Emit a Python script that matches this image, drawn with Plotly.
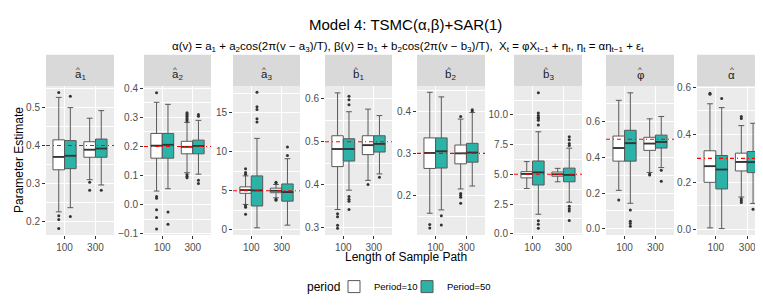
import plotly.graph_objects as go

# ---------------- data ----------------
params = ["a1", "a2", "a3", "b1", "b2", "b3", "phi", "alpha"]
strip_letters = ["a", "a", "a", "b", "b", "b", "φ", "α"]
strip_subs = ["1", "2", "3", "1", "2", "3", "", ""]
true_values = [0.4, 0.2, 5, 0.5, 0.3, 5, 0.5, 0.3]
lengths = ["100", "300"]
periods = ["Period=10", "Period=50"]

# rows: parameter, columns: length 100, 300
q1_p10 = [[0.336, 0.369], [0.160, 0.175], [4.67, 4.75], [0.442, 0.470], [0.264, 0.275], [4.70, 4.84], [0.378, 0.438], [0.199, 0.247]]
med_p10 = [[0.370, 0.389], [0.203, 0.199], [5.08, 5.00], [0.483, 0.492], [0.301, 0.300], [5.03, 5.00], [0.451, 0.476], [0.267, 0.285]]
q3_p10 = [[0.415, 0.410], [0.245, 0.218], [5.50, 5.33], [0.514, 0.514], [0.337, 0.320], [5.22, 5.19], [0.518, 0.511], [0.332, 0.322]]
lo_p10 = [[0.225, 0.310], [0.047, 0.110], [3.25, 4.10], [0.342, 0.410], [0.157, 0.215], [3.80, 4.37], [0.215, 0.315], [0.007, 0.137]]
hi_p10 = [[0.527, 0.472], [0.352, 0.283], [6.90, 5.80], [0.614, 0.576], [0.446, 0.382], [6.07, 5.50], [0.717, 0.614], [0.530, 0.438]]
out_p10 = [
    [[0.540, 0.215, 0.205, 0.181], [0.303, 0.282]],
    [[0.385, 0.028, 0.022, -0.017, -0.044, -0.083], [0.288, 0.293, 0.298, 0.303, 0.308, 0.312, 0.316, 0.104, 0.098, 0.093]],
    [[7.83, 7.33, 7.1, 3.09, 2.9, 2.0], [6.0, 6.1, 3.9, 3.8]],
    [[0.332, 0.325, 0.305, 0.298], [0.400]],
    [[0.130, 0.122], [0.388, 0.204, 0.200, 0.195, 0.181]],
    [[], []],
    [[0.161], [0.306, 0.300]],
    [[0.575, 0.570], [0.477, 0.468, 0.130, 0.122, 0.114]],
]

q1_p50 = [[0.339, 0.369], [0.160, 0.175], [3.05, 3.67], [0.455, 0.476], [0.265, 0.279], [4.10, 4.37], [0.378, 0.451], [0.171, 0.240]]
med_p50 = [[0.373, 0.392], [0.206, 0.202], [5.04, 4.83], [0.483, 0.495], [0.305, 0.302], [5.16, 4.95], [0.478, 0.485], [0.253, 0.284]]
q3_p50 = [[0.413, 0.417], [0.245, 0.222], [6.90, 5.87], [0.507, 0.514], [0.337, 0.324], [6.12, 5.52], [0.550, 0.523], [0.312, 0.329]]
lo_p50 = [[0.236, 0.296], [0.055, 0.105], [0.26, 0.60], [0.387, 0.425], [0.165, 0.222], [1.64, 2.65], [0.143, 0.342], [0.004, 0.110]]
hi_p50 = [[0.500, 0.492], [0.345, 0.290], [11.7, 9.1], [0.570, 0.561], [0.435, 0.398], [8.58, 7.2], [0.759, 0.627], [0.514, 0.448]]
out_p50 = [
    [[0.530, 0.213], [0.282]],
    [[-0.025, -0.067], [0.304, 0.310, 0.084, 0.073]],
    [[17.6, 15.76, 15.4, 14.2, 13.8], [10.6, 9.5]],
    [[0.606, 0.598, 0.586, 0.372, 0.366, 0.361, 0.342], [0.417]],
    [[0.151, 0.129], [0.404, 0.401]],
    [[11.86, 10.16, 9.95, 9.8, 9.7, 9.55, 9.15, 1.09, 0.8, 0.46], [8.17, 7.9, 7.6, 7.43, 2.32, 2.1, 1.91, 1.12]],
    [[0.106, 0.043, 0.030, 0.015], [0.327, 0.266]],
    [[0.552], [0.086]],
]

# axis settings (styling)
y_ranges = [[0.164, 0.557], [-0.104, 0.408], [-0.66, 18.4], [0.2825, 0.630],
            [0.105, 0.461], [-0.107, 12.43], [-0.034, 0.797], [-0.023, 0.605]]
y_dticks = [0.1, 0.1, 5, 0.1, 0.1, 2.5, 0.2, 0.2]
y_formats = [".1f", ".1f", ".0f", ".1f", ".1f", ".1f", ".1f", ".1f"]

# ---------------- layout geometry (pixels) ----------------
W, H = 763, 305
panel_x = [(38, 106), (136, 203), (225, 292), (317, 384), (409, 477), (506, 574), (598, 666), (689, 758)]
panel_top, panel_bot = 76, 229
strip_top = 44
legend_x = [326, 399]
legend_y = 282

fills = ["white", "#2AB3A6"]
box_line = "#595959"
FONT = "Liberation Sans, Arial, sans-serif"
box_w = 0.375
offsets = [-box_w / 2, box_w / 2]
legend_ids = ["legend", "legend2"]

fig = go.Figure()
shapes = []
annotations = []

stats = [
    (q1_p10, med_p10, q3_p10, lo_p10, hi_p10, out_p10),
    (q1_p50, med_p50, q3_p50, lo_p50, hi_p50, out_p50),
]

for i, p in enumerate(params):
    ax = "" if i == 0 else str(i + 1)
    xa, ya = "x" + ax, "y" + ax
    for k, (q1, med, q3, lo, hi, outs) in enumerate(stats):
        xs = [j + 1 + offsets[k] for j in range(len(lengths))]
        fig.add_trace(go.Box(
            x=xs, q1=q1[i], median=med[i], q3=q3[i],
            lowerfence=lo[i], upperfence=hi[i],
            width=box_w, fillcolor=fills[k],
            line=dict(color=box_line, width=1),
            name=periods[k], legendgroup=periods[k], legend=legend_ids[k],
            showlegend=(i == 0), boxpoints=False, hoverinfo="skip",
            xaxis=xa, yaxis=ya,
        ))
        ox, oy = [], []
        for j in range(len(lengths)):
            for v in outs[i][j]:
                ox.append(xs[j])
                oy.append(v)
        fig.add_trace(go.Scatter(
            x=ox, y=oy, mode="markers",
            marker=dict(size=3, color="#333333"),
            showlegend=False, hoverinfo="skip", xaxis=xa, yaxis=ya,
        ))
        # thicker median segments (ggplot style)
        for j in range(len(lengths)):
            shapes.append(dict(type="line", xref=xa, yref=ya,
                               x0=xs[j] - box_w / 2, x1=xs[j] + box_w / 2,
                               y0=med[i][j], y1=med[i][j],
                               line=dict(color="#333333", width=1.8), layer="above"))
    # true value reference line
    shapes.append(dict(type="line", xref=xa + " domain", yref=ya, x0=0, x1=1,
                       y0=true_values[i], y1=true_values[i],
                       line=dict(color="#FF0000", width=1.1, dash="4px,3px,1px,3px"),
                       layer="above"))
    # strip
    x0p, x1p = panel_x[i][0] / W, panel_x[i][1] / W
    shapes.append(dict(type="rect", xref="paper", yref="paper",
                       x0=x0p, x1=x1p, y0=1 - panel_top / H, y1=1 - strip_top / H,
                       fillcolor="#D9D9D9", line=dict(width=0), layer="below"))
    has_sub = strip_subs[i] != ""
    label = strip_letters[i] + (f"<sub>{strip_subs[i]}</sub>" if has_sub else "")
    xc = (x0p + x1p) / 2
    annotations.append(dict(text=label, xref="paper", yref="paper",
                            x=xc, y=1 - 65 / H, showarrow=False,
                            xanchor="center", yanchor="middle",
                            font=dict(family=FONT, size=11.5, color="#1A1A1A")))
    annotations.append(dict(text="^", xref="paper", yref="paper",
                            x=xc, xshift=(-2.3 if has_sub else 0), y=1 - 59.5 / H,
                            showarrow=False, xanchor="center", yanchor="middle",
                            font=dict(family=FONT, size=8, color="#1A1A1A")))

    fig.layout["xaxis" + ax] = dict(
        domain=[x0p, x1p], anchor=ya, range=[0.4, 2.6],
        tickmode="array", tickvals=[1, 2], ticktext=lengths,
        showgrid=True, gridcolor="white", gridwidth=1.07, zeroline=False,
        ticks="outside", ticklen=3, tickwidth=1, tickcolor="#333333",
        tickfont=dict(family=FONT, size=10, color="#4D4D4D"),
        showline=False, fixedrange=True,
    )
    fig.layout["yaxis" + ax] = dict(
        domain=[1 - panel_bot / H, 1 - panel_top / H], anchor=xa,
        range=y_ranges[i], tickmode="linear", tick0=0, dtick=y_dticks[i],
        tickformat=y_formats[i],
        showgrid=True, gridcolor="white", gridwidth=1.07, zeroline=False,
        minor=dict(tick0=0, dtick=y_dticks[i] / 2, showgrid=True,
                   gridcolor="white", gridwidth=0.55, ticks=""),
        ticks="outside", ticklen=3, tickwidth=1, tickcolor="#333333",
        tickfont=dict(family=FONT, size=10, color="#4D4D4D"),
        showline=False, fixedrange=True,
    )

# titles
annotations.append(dict(text="Model 4: TSMC(α,β)+SAR(1)", xref="paper", yref="paper",
                        x=398 / W, y=1 - 13 / H, showarrow=False, xanchor="center", yanchor="middle",
                        font=dict(family=FONT, size=15, color="black")))
annotations.append(dict(
    text="α(v) = a<sub>1</sub> + a<sub>2</sub>cos(2π(v − a<sub>3</sub>)/T), "
         "β(v) = b<sub>1</sub> + b<sub>2</sub>cos(2π(v − b<sub>3</sub>)/T),  "
         "X<sub>t</sub> = φX<sub>t−1</sub> + η<sub>t</sub>, η<sub>t</sub> = αη<sub>t−1</sub> + ε<sub>t</sub>",
    xref="paper", yref="paper", x=400 / W, y=1 - 36 / H, showarrow=False,
    xanchor="center", yanchor="middle", font=dict(family=FONT, size=11.5, color="black")))
annotations.append(dict(text="Parameter Estimate", xref="paper", yref="paper",
                        x=11 / W, y=1 - 152 / H, showarrow=False, textangle=-90,
                        xanchor="center", yanchor="middle",
                        font=dict(family=FONT, size=12, color="black")))
annotations.append(dict(text="Length of Sample Path", xref="paper", yref="paper",
                        x=398 / W, y=1 - 252 / H, showarrow=False,
                        xanchor="center", yanchor="middle",
                        font=dict(family=FONT, size=12, color="black")))
# legend title (right-aligned so it keeps its gap to the first key)
annotations.append(dict(text="period", xref="paper", yref="paper",
                        x=334 / W, y=1 - 282 / H, showarrow=False,
                        xanchor="right", yanchor="middle",
                        font=dict(family=FONT, size=12, color="black")))

legend_style = dict(orientation="h", xanchor="left", yanchor="middle",
                    font=dict(family=FONT, size=9.5, color="black"),
                    bgcolor="rgba(0,0,0,0)", itemwidth=30)

fig.update_layout(
    width=W, height=H, margin=dict(l=0, r=0, t=0, b=0),
    paper_bgcolor="white", plot_bgcolor="#EBEBEB",
    shapes=shapes, annotations=annotations,
    boxmode="overlay",
    legend=dict(x=legend_x[0] / W, y=1 - legend_y / H, **legend_style),
    legend2=dict(x=legend_x[1] / W, y=1 - legend_y / H, **legend_style),
    font=dict(family=FONT),
)

fig.write_html("out.html")
